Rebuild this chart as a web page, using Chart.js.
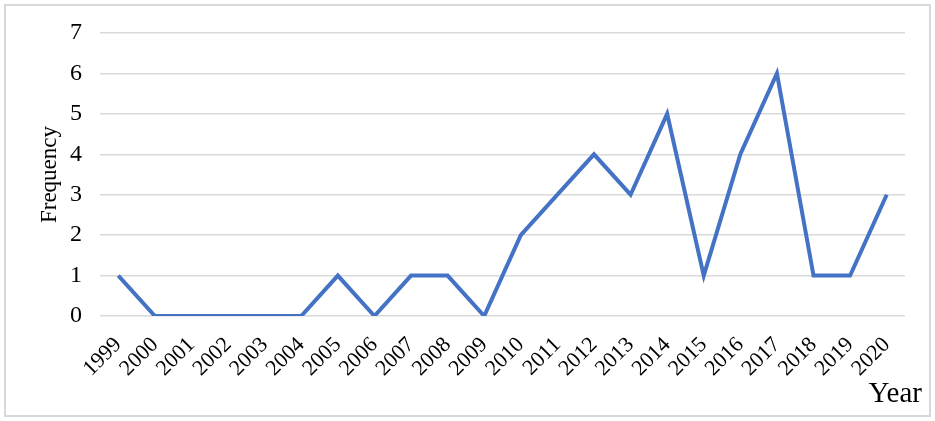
<!DOCTYPE html>
<html><head><meta charset="utf-8">
<script src="https://cdn.jsdelivr.net/npm/chart.js@4"></script>
<style>
html,body{margin:0;padding:0;background:#fff;}
#frame{position:absolute;left:4px;top:4px;width:923px;height:409px;border:2px solid #d9d9d9;}
#wrap{position:absolute;left:0;top:0;width:935px;height:421px;}
</style></head>
<body>
<div id="frame"></div>
<div id="wrap"><canvas id="c" width="935" height="421"></canvas></div>
<script>
const years = ["1999","2000","2001","2002","2003","2004","2005","2006","2007","2008","2009","2010","2011","2012","2013","2014","2015","2016","2017","2018","2019","2020"];
const frequency = [1,0,0,0,0,0,1,0,1,1,0,2,3,4,3,5,1,4,6,1,1,3];
const yTicks = [0,1,2,3,4,5,6,7];
const xTitle = "Year";
const yTitle = "Frequency";
const FONT = "'Liberation Serif','Times New Roman',serif";
const yearTitle = {
  id: 'yearTitle',
  afterDraw(chart) {
    const ctx = chart.ctx;
    ctx.save();
    ctx.font = "29px " + FONT;
    ctx.fillStyle = '#000';
    ctx.textAlign = 'right';
    ctx.textBaseline = 'alphabetic';
    ctx.fillText(xTitle, 922, 402);
    ctx.restore();
  }
};
new Chart(document.getElementById('c'), {
  type: 'line',
  data: { labels: years, datasets: [{ data: frequency, borderColor: '#4472C4', borderWidth: 4, pointRadius: 0, tension: 0, fill: false }] },
  options: {
    responsive: false, animation: false,
    layout: { padding: { top: 33, right: 30, left: 0, bottom: 0 } },
    plugins: { legend: { display: false }, tooltip: { enabled: false } },
    scales: {
      x: {
        offset: true,
        grid: { display: false }, border: { display: false },
        ticks: { color: '#000', font: { family: FONT, size: 22 }, minRotation: 45, maxRotation: 45, autoSkip: false, padding: 8 },
        afterFit: s => { s.height = 105; }
      },
      y: {
        min: 0, max: 7,
        afterBuildTicks: s => { s.ticks = yTicks.map(v => ({ value: v })); },
        grid: { color: '#d9d9d9', lineWidth: 1.5, drawTicks: false }, border: { display: false },
        ticks: { color: '#000', font: { family: FONT, size: 24 }, padding: 18 },
        title: { display: true, text: yTitle, color: '#000', font: { family: FONT, size: 23 }, padding: { top: 36, bottom: 0 } },
        afterFit: s => { s.width = 100; }
      }
    }
  },
  plugins: [yearTitle]
});
</script>
</body></html>
